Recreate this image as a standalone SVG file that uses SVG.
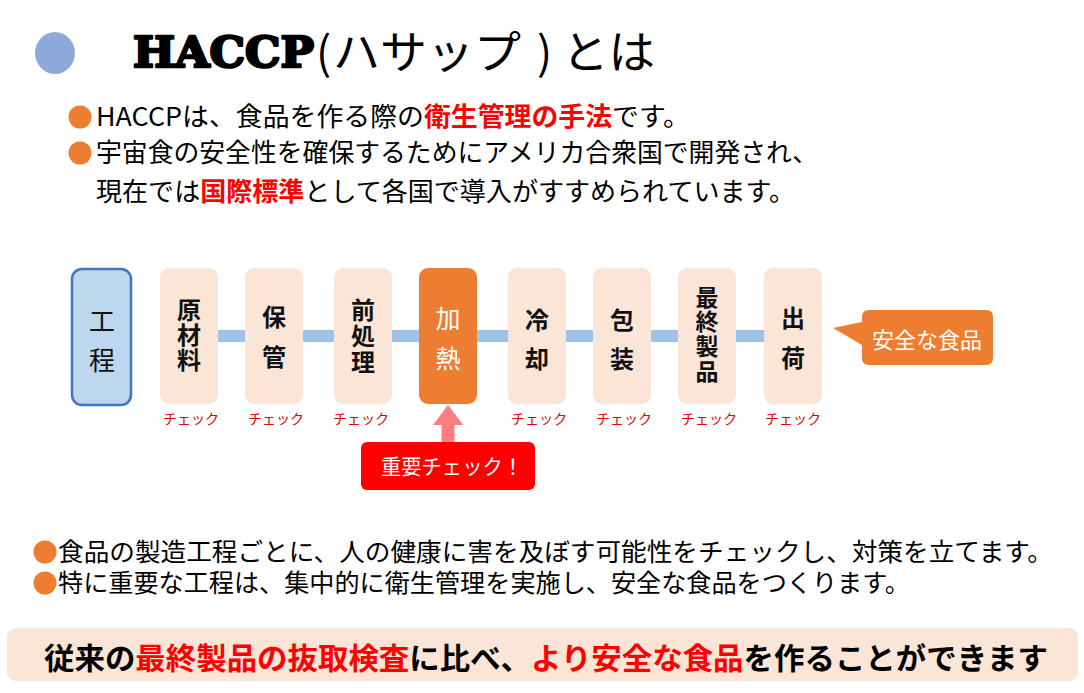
<svg xmlns="http://www.w3.org/2000/svg" width="1084" height="693" viewBox="0 0 1084 693">
<defs>
<style>
.jp{font-family:"Noto Sans CJK JP","Noto Sans",sans-serif;}
.body{font-size:26px;fill:#000;}
.red{fill:#FF0000;font-weight:bold;}
.step{fill:#FBE5D6;}
.stxt{font-family:"Noto Sans CJK JP",sans-serif;font-size:24px;font-weight:bold;fill:#111;writing-mode:vertical-rl;text-anchor:start;}
.chk{font-family:"Noto Sans CJK JP",sans-serif;font-size:14px;fill:#E00000;text-anchor:middle;}
.bullet{fill:#ED7D31;}
.ttl{font-family:"Noto Sans CJK JP",sans-serif;font-size:45px;fill:#000;}
</style>
</defs>
<rect width="1084" height="693" fill="#FFFFFF"/>

<g id="title">
<ellipse cx="55" cy="53" rx="20" ry="21" fill="#8EA9DB"/>
<text x="133" y="67" font-family="DejaVu Serif" font-weight="bold" font-size="43" textLength="181" lengthAdjust="spacingAndGlyphs" fill="#000" stroke="#000" stroke-width="2.6" stroke-linejoin="round">HACCP</text>
<text x="316" y="69" class="ttl">(</text>
<text x="333" y="69" class="ttl" textLength="188" lengthAdjust="spacingAndGlyphs">ハサップ</text>
<text x="537" y="69" class="ttl">)</text>
<text x="562" y="69" class="ttl" textLength="93" lengthAdjust="spacingAndGlyphs">とは</text>
</g>

<g id="intro">
<circle cx="80" cy="117" r="11.5" class="bullet"/>
<text x="96" y="126" class="jp body" textLength="594" lengthAdjust="spacingAndGlyphs">HACCPは、食品を作る際の<tspan class="red">衛生管理の手法</tspan>です。</text>
<circle cx="80" cy="153" r="11.5" class="bullet"/>
<text x="96" y="162" class="jp body" textLength="722" lengthAdjust="spacingAndGlyphs">宇宙食の安全性を確保するためにアメリカ合衆国で開発され、</text>
<text x="96" y="201" class="jp body" textLength="699" lengthAdjust="spacingAndGlyphs">現在では<tspan class="red">国際標準</tspan>として各国で導入がすすめられています。</text>
</g>

<g id="connectors">
<rect x="216" y="330" width="550" height="12" fill="#9DC3E6"/>
<path d="M441.5,458 L441.5,425 L433,425 L448,405 L463,425 L454.5,425 L454.5,458 Z" fill="#FF7C80"/>
</g>

<g id="process-label">
<rect x="72" y="269" width="59" height="136" rx="10" fill="#BDD7EE" stroke="#4472C4" stroke-width="2.5"/>
<text x="102" y="308" class="stxt" style="font-weight:normal;font-size:26px;letter-spacing:13px">工程</text>
</g>

<g id="step-genzairyo">
<rect x="160" y="268" width="58" height="136" rx="9" class="step"/>
<text x="189" y="298" class="stxt" style="letter-spacing:1px">原材料</text>
<text x="191" y="424" class="chk">チェック</text>
</g>

<g id="step-hokan">
<rect x="245" y="268" width="58" height="136" rx="9" class="step"/>
<text x="274" y="305" class="stxt" style="letter-spacing:16px">保管</text>
<text x="276" y="424" class="chk">チェック</text>
</g>

<g id="step-zenshori">
<rect x="334" y="268" width="58" height="136" rx="9" class="step"/>
<text x="363" y="298" class="stxt" style="letter-spacing:2px">前処理</text>
<text x="361" y="424" class="chk">チェック</text>
</g>

<g id="step-kanetsu">
<rect x="419" y="268" width="58" height="136" rx="9" fill="#ED7D31"/>
<text x="448" y="305.5" class="stxt" style="fill:#FFFFFF;font-weight:normal;font-size:25px;letter-spacing:15px">加熱</text>
</g>

<g id="step-reikyaku">
<rect x="508" y="268" width="58" height="136" rx="9" class="step"/>
<text x="537" y="308" class="stxt" style="letter-spacing:15px">冷却</text>
<text x="539" y="424" class="chk">チェック</text>
</g>

<g id="step-hoso">
<rect x="593" y="268" width="58" height="136" rx="9" class="step"/>
<text x="622" y="308" class="stxt" style="letter-spacing:15px">包装</text>
<text x="624" y="424" class="chk">チェック</text>
</g>

<g id="step-saishu">
<rect x="678" y="268" width="58" height="136" rx="9" class="step"/>
<text x="707" y="285.5" class="stxt" style="font-size:23px;letter-spacing:1.7px">最終製品</text>
<text x="709" y="424" class="chk">チェック</text>
</g>

<g id="step-shukka">
<rect x="764" y="268" width="58" height="136" rx="9" class="step"/>
<text x="793" y="306" class="stxt" style="letter-spacing:16px">出荷</text>
<text x="793" y="424" class="chk">チェック</text>
</g>

<g id="callout-safe">
<path d="M833,328 L862,322 L862,317 Q862,310 869,310 L986,310 Q993,310 993,317 L993,358 Q993,365 986,365 L869,365 Q862,365 862,358 L862,345 Z" fill="#ED7D31"/>
<text x="927" y="338" font-family="Noto Sans CJK JP,sans-serif" font-size="22" fill="#FFFFFF" text-anchor="middle" dominant-baseline="central">安全な食品</text>
</g>

<g id="important-check">
<rect x="361" y="442" width="174" height="48" rx="6" fill="#FF0000"/>
<text x="452" y="465" font-family="Noto Sans CJK JP,sans-serif" font-size="21" fill="#FFFFFF" text-anchor="middle" dominant-baseline="central" textLength="142" lengthAdjust="spacingAndGlyphs">重要チェック！</text>
</g>

<g id="notes">
<circle cx="45" cy="552" r="11.5" class="bullet"/>
<text x="58" y="561" class="jp" font-size="25" fill="#000" textLength="995" lengthAdjust="spacingAndGlyphs">食品の製造工程ごとに、人の健康に害を及ぼす可能性をチェックし、対策を立てます。</text>
<circle cx="45" cy="583" r="11.5" class="bullet"/>
<text x="58" y="592" class="jp" font-size="25" fill="#000" textLength="852" lengthAdjust="spacingAndGlyphs">特に重要な工程は、集中的に衛生管理を実施し、安全な食品をつくります。</text>
</g>

<g id="conclusion">
<rect x="7" y="628" width="1071" height="53" rx="9" fill="#FBE5D6"/>
<text x="44" y="656" class="jp" font-size="30" font-weight="bold" fill="#000" dominant-baseline="central" textLength="1004" lengthAdjust="spacingAndGlyphs">従来の<tspan fill="#FF0000">最終製品の抜取検査</tspan>に比べ、<tspan fill="#FF0000">より安全な食品</tspan>を作ることができます</text>
</g>
</svg>
